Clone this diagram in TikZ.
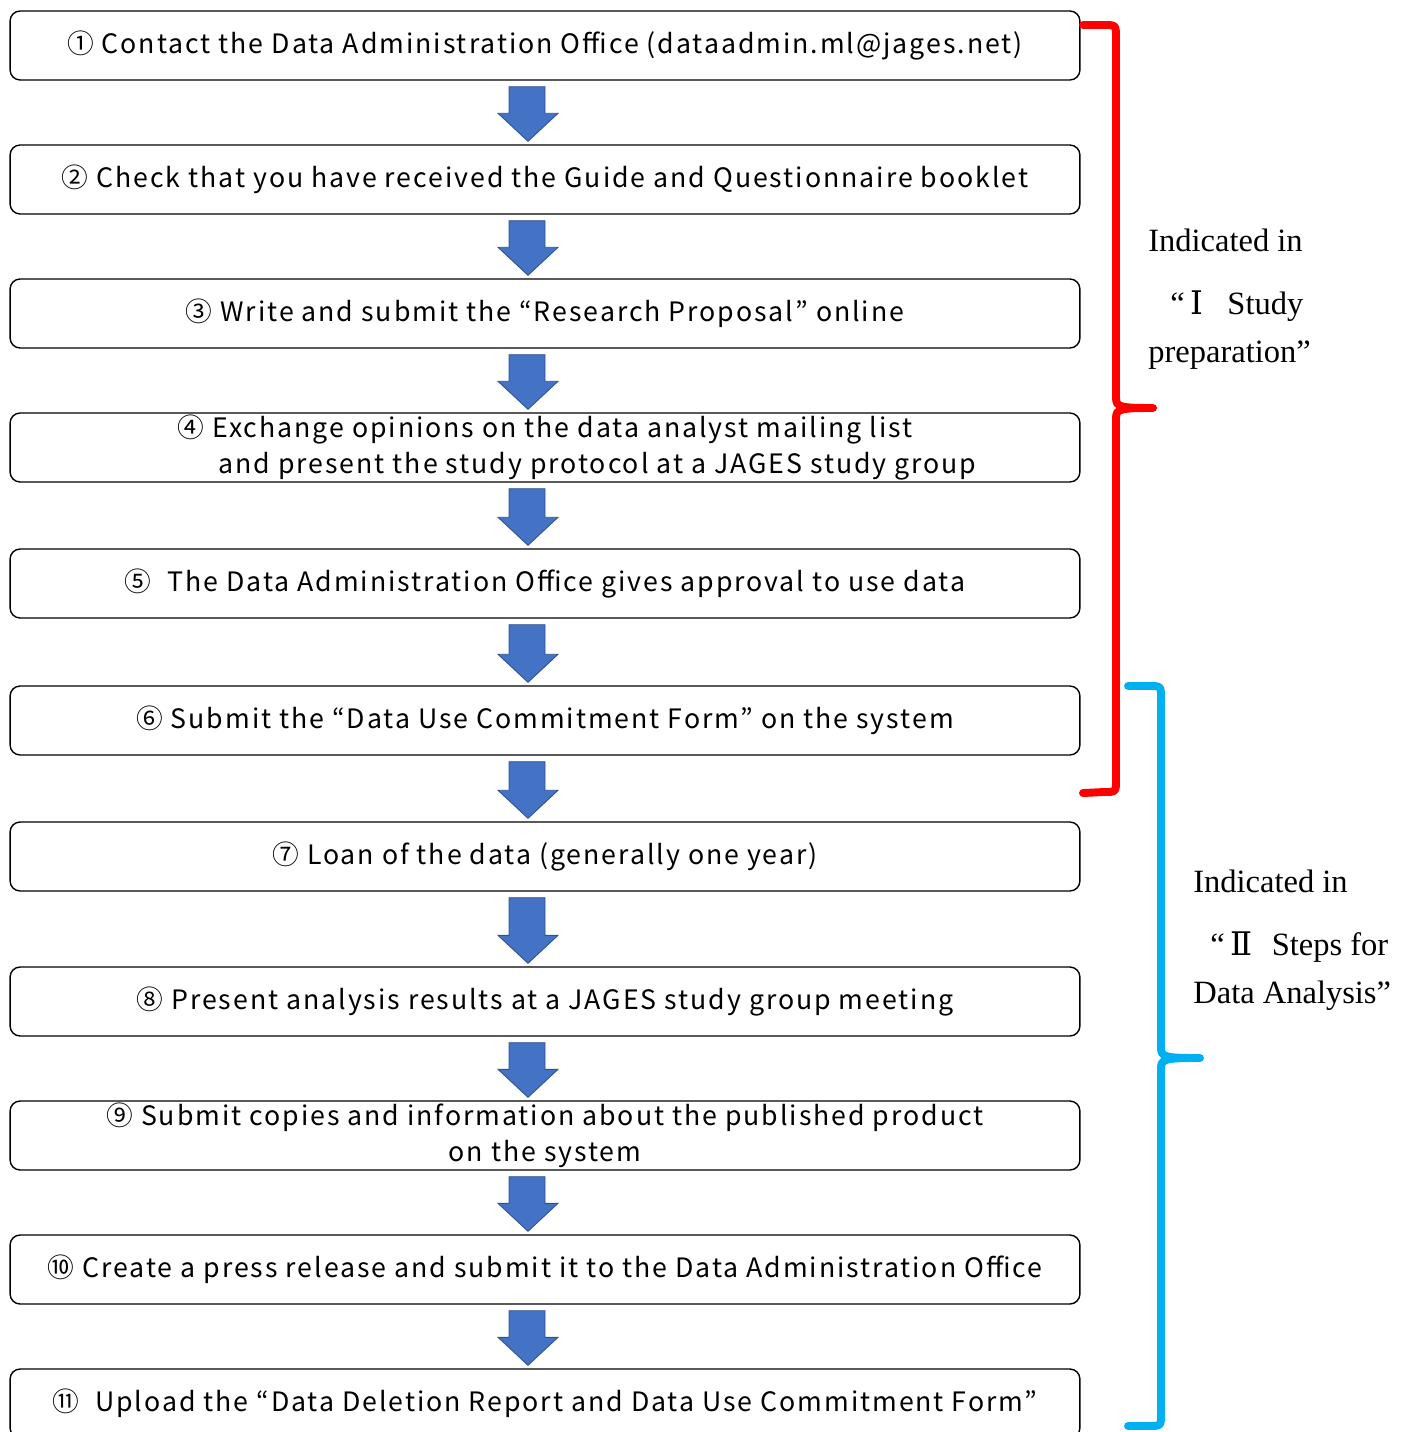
\documentclass[tikz,border=0pt]{standalone}
\usepackage{fontspec}
\setmainfont{Liberation Serif}
\newfontfamily\boxfont[LetterSpace=7.3]{Noto Sans CJK JP}
\newfontfamily\romfont{DejaVu Serif}
\usetikzlibrary{calc}

\definecolor{arrowblue}{HTML}{4472C4}
\definecolor{arrowedge}{HTML}{2F528F}
\definecolor{bracered}{HTML}{FF0000}
\definecolor{braceblue}{HTML}{00B0F0}

\begin{document}
\begin{tikzpicture}[x=0.02cm, y=-0.02cm,
	stepbox/.style={draw=black, line width=0.8pt, rounded corners=0.2cm,
		minimum width=21.4cm, minimum height=1.38cm, inner sep=0pt, align=center,
		font=\boxfont\fontsize{15.2}{20.4}\selectfont},
	downarrow/.style={fill=arrowblue, draw=arrowedge, line width=0.5pt},
	brace/.style={line width=4.5pt, line cap=round, line join=round},
	sidetext/.style={anchor=base west, inner sep=0pt, font=\fontsize{18.5}{22}\selectfont}]
	\clip (0,0) rectangle (1406,1432);

	% steps
	\node[stepbox] (s1) at (545,45.5) {① Contact the Data Administration Office (dataadmin.ml@jages.net)};
	\node[stepbox] (s2) at (545,179.5) {② Check that you have received the Guide and Questionnaire booklet};
	\node[stepbox] (s3) at (545,313.5) {③ Write and submit the “Research Proposal” online};
	\node[stepbox] (s4) at (545,447.5) {④ Exchange opinions on the data analyst mailing list\\\hspace*{2.1cm}and present the study protocol at a JAGES study group};
	\node[stepbox] (s5) at (545,583.5) {⑤\ \ The Data Administration Office gives approval to use data};
	\node[stepbox] (s6) at (545,720.5) {⑥ Submit the “Data Use Commitment Form” on the system};
	\node[stepbox] (s7) at (545,856.5) {⑦ Loan of the data (generally one year)};
	\node[stepbox] (s8) at (545,1001.5) {⑧ Present analysis results at a JAGES study group meeting};
	\node[stepbox] (s9) at (545,1135.5) {⑨ Submit copies and information about the published product\\on the system};
	\node[stepbox] (s10) at (545,1269.5) {⑩ Create a press release and submit it to the Data Administration Office};
	\node[stepbox] (s11) at (545,1403.5) {⑪\ \ Upload the “Data Deletion Report and Data Use Commitment Form”};

	% block arrows between the steps
	\foreach \a/\b in {s1/s2,s2/s3,s3/s4,s4/s5,s5/s6,s6/s7,s7/s8,s8/s9,s9/s10,s10/s11} {
		\draw[downarrow] ($(\a.south)+(-36,6)$) -- ($(\a.south)+(0,6)$)
			-- ($(\b.north)+(0,-31)$) -- ($(\b.north)+(13,-31)$)
			-- ($(\b.north)+(-17,-3)$)
			-- ($(\b.north)+(-47,-31)$) -- ($(\b.north)+(-36,-31)$) -- cycle;
	}

	% braces
	\draw[brace, bracered] (1083,25) -- (1104,25) .. controls (1116,25) .. (1116,38)
		-- (1116,398) .. controls (1116,407) and (1120,408) .. (1153,408)
		.. controls (1120,408) and (1116,409) .. (1116,418)
		-- (1116,780) .. controls (1116,792) .. (1104,792) -- (1083,793);
	\draw[brace, braceblue] (1128,686) -- (1149,686) .. controls (1161,686) .. (1161,698)
		-- (1161,1048) .. controls (1161,1057) and (1165,1058) .. (1200,1058)
		.. controls (1165,1058) and (1161,1059) .. (1161,1068)
		-- (1161,1414) .. controls (1161,1426) .. (1149,1426) -- (1128,1426);

	% labels of the braces
	\node[sidetext] (prep1) at (1148,252) {Indicated in};
	\node[sidetext] (prep2) at (1170,315) {“\,{\romfont Ⅰ}\hspace{0.75em}Study};
	\node[sidetext] (prep3) at (1148,363) {preparation”};
	\node[sidetext] (ana1) at (1193,892) {Indicated in};
	\node[sidetext] (ana2) at (1210,955) {“\,{\romfont Ⅱ}\hspace{0.6em}Steps for};
	\node[sidetext] (ana3) at (1193,1003) {Data Analysis”};
\end{tikzpicture}
\end{document}
